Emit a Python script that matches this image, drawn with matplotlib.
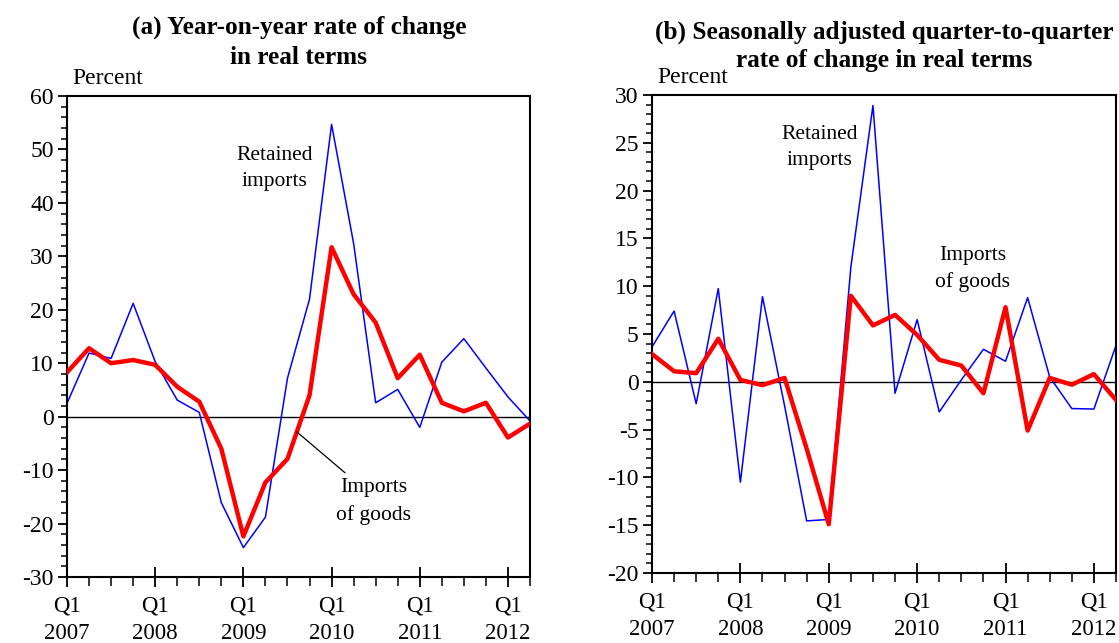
import matplotlib
matplotlib.use("Agg")
import matplotlib.pyplot as plt
from matplotlib.ticker import MultipleLocator, FixedLocator

plt.rcParams['font.family'] = ['Liberation Serif', 'DejaVu Serif']
plt.rcParams['axes.unicode_minus'] = False

quarters = list(range(22))  # 2007Q1 .. 2012Q2
year_ticks = [0, 4, 8, 12, 16, 20]
year_labels = ["Q1\n2007", "Q1\n2008", "Q1\n2009", "Q1\n2010", "Q1\n2011", "Q1\n2012"]

# (a) year-on-year
yoy_goods = [8.3, 12.8, 10.0, 10.6, 9.7, 5.6, 2.8, -6.0, -22.4, -12.3, -7.9, 4.0,
             31.7, 22.9, 17.6, 7.2, 11.6, 2.6, 1.0, 2.6, -3.9, -1.3]
yoy_retained = [2.5, 11.9, 10.9, 21.2, 10.3, 3.1, 0.8, -16.1, -24.5, -18.8, 7.2, 22.0,
                54.7, 32.4, 2.6, 5.1, -2.0, 10.2, 14.6, 9.1, 3.7, -0.8]

# (b) seasonally adjusted q/q
qoq_goods = [2.9, 1.1, 0.9, 4.5, 0.2, -0.35, 0.4, -7.0, -14.9, 9.0, 5.9, 7.0,
             4.9, 2.3, 1.7, -1.2, 7.8, -5.1, 0.4, -0.3, 0.8, -1.9]
qoq_retained = [3.65, 7.4, -2.3, 9.75, -10.5, 8.9, -2.5, -14.55, -14.4, 12.0, 28.9, -1.2,
                6.5, -3.15, 0.2, 3.4, 2.15, 8.8, 0.5, -2.8, -2.85, 3.8]

W, H = 1119, 643
fig = plt.figure(figsize=(W / 100, H / 100), dpi=100)


def px_axes(left, top, right, bottom):
    return fig.add_axes([left / W, 1 - bottom / H, (right - left) / W, (bottom - top) / H])


def style(ax, ylim, major, minor):
    ax.set_xlim(0, 21)
    ax.set_ylim(*ylim)
    ax.axhline(0, color="black", lw=1.0, zorder=1)
    ax.yaxis.set_major_locator(MultipleLocator(major))
    ax.yaxis.set_minor_locator(MultipleLocator(minor))
    ax.xaxis.set_major_locator(FixedLocator(year_ticks))
    ax.xaxis.set_minor_locator(FixedLocator(quarters))
    ax.set_xticklabels(year_labels, linespacing=1.42)
    ax.tick_params(axis="y", which="major", direction="out", length=6.5, width=1.3,
                   labelsize=17, pad=3, right=False)
    ax.tick_params(axis="y", which="minor", direction="out", length=4, width=1.1, right=False)
    ax.tick_params(axis="x", which="major", direction="inout", length=14, width=1.3,
                   labelsize=16.5, pad=6, top=False)
    ax.tick_params(axis="x", which="minor", direction="out", length=6.5, width=1.1, top=False)
    for s in ax.spines.values():
        s.set_linewidth(1.5)
    ax.annotate("Percent", xy=(0, 1), xycoords="axes fraction", xytext=(4, 5),
                textcoords="offset points", fontsize=17, ha="left", va="bottom")


# panel (a)
ax1 = px_axes(67, 96, 530, 577)
style(ax1, (-30, 60), 10, 2)
ax1.plot(quarters, yoy_retained, color="#0000ff", lw=1.1, zorder=2)
ax1.plot(quarters, yoy_goods, color="#ff0000", lw=3.2, zorder=3)
ax1.text(9.43, 46.5, "Retained\nimports", fontsize=15.5, ha="center", va="center", linespacing=1.5)
ax1.annotate("", xy=(10.43, -2.86), xytext=(12.61, -10.5),
             arrowprops=dict(arrowstyle="-", color="black", lw=0.9, shrinkA=0, shrinkB=0))
ax1.text(13.92, -15.9, "Imports\nof goods", fontsize=15.5, ha="center", va="center",
         linespacing=1.5)
fig.text(299 / W, 1 - 27 / H, "(a) Year-on-year rate of change", fontsize=18.2,
         fontweight="bold", ha="center", va="center")
fig.text(299 / W, 1 - 57 / H, "in real terms", fontsize=18.2,
         fontweight="bold", ha="center", va="center")

# panel (b)
ax2 = px_axes(652, 95, 1116, 573)
style(ax2, (-20, 30), 5, 1)
ax2.plot(quarters, qoq_retained, color="#0000ff", lw=1.1, zorder=2)
ax2.plot(quarters, qoq_goods, color="#ff0000", lw=3.2, zorder=3)
ax2.text(7.6, 24.5, "Retained\nimports", fontsize=15.5, ha="center", va="center", linespacing=1.5)
ax2.text(14.5, 11.8, "Imports\nof goods", fontsize=15.5, ha="center", va="center", linespacing=1.5)
fig.text(884 / W, 1 - 32 / H, "(b) Seasonally adjusted quarter-to-quarter", fontsize=18.2,
         fontweight="bold", ha="center", va="center")
fig.text(884 / W, 1 - 60 / H, "rate of change in real terms", fontsize=18.2,
         fontweight="bold", ha="center", va="center")

fig.savefig("out.png", dpi=100)
